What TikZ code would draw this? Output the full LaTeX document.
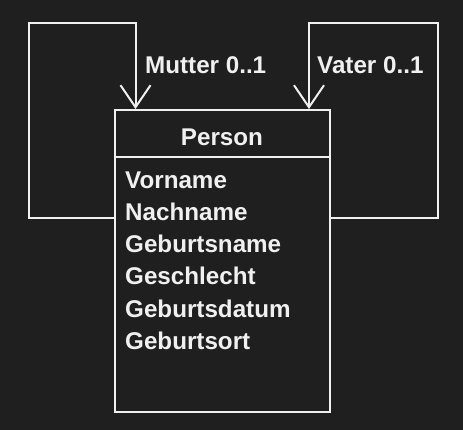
\documentclass[tikz,border=0pt]{standalone}
\usepackage{fontspec}
\setmainfont{Liberation Sans}
\usetikzlibrary{arrows.meta}
\definecolor{bg}{HTML}{1F1F1F}
\definecolor{fg}{HTML}{F0F0F0}
\tikzset{
  lbl/.style={text=fg, inner sep=0pt, anchor=base west, font=\fontsize{24.2}{28}\selectfont\bfseries},
  classbox/.style={draw=fg, line width=2pt, rectangle, inner sep=0pt, minimum width=215.5pt, minimum height=302pt},
  assoc/.style={draw=fg, line width=2pt, -{Straight Barb[length=22pt, width=30pt, line width=2pt]}},
  divider/.style={draw=fg, line width=2pt}
}
\begin{document}
\begin{tikzpicture}[x=1pt, y=-1pt]
\path[fill=bg, use as bounding box] (0,0) rectangle (463,430);
\node[classbox] (person) at (222.25,261) {};
\node[lbl, anchor=base] (title) at (222,145.7) {Person};
\coordinate (hd) at (0,157);
\draw[divider] (person.west |- hd) -- (person.east |- hd);
\node[lbl] (a1) at (125,189) {Vorname};
\node[lbl] (a2) at (125,221) {Nachname};
\node[lbl] (a3) at (125,253) {Geburtsname};
\node[lbl] (a4) at (125,285) {Geschlecht};
\node[lbl] (a5) at (125,317) {Geburtsdatum};
\node[lbl] (a6) at (125,349) {Geburtsort};
\coordinate (row) at (0,218);
\coordinate (lc) at (28.5,23.5);
\coordinate (rc) at (437.5,23.5);
\coordinate (lx) at (135.5,0);
\coordinate (rx) at (309,0);
\draw[assoc] (person.west |- row) -| (lc) -| (person.north -| lx);
\draw[assoc] (person.east |- row) -| (rc) -| (person.north -| rx);
\node[lbl] (mutter) at (145,73.5) {Mutter 0..1};
\node[lbl] (vater) at (317,73.5) {Vater 0..1};
\end{tikzpicture}
\end{document}
